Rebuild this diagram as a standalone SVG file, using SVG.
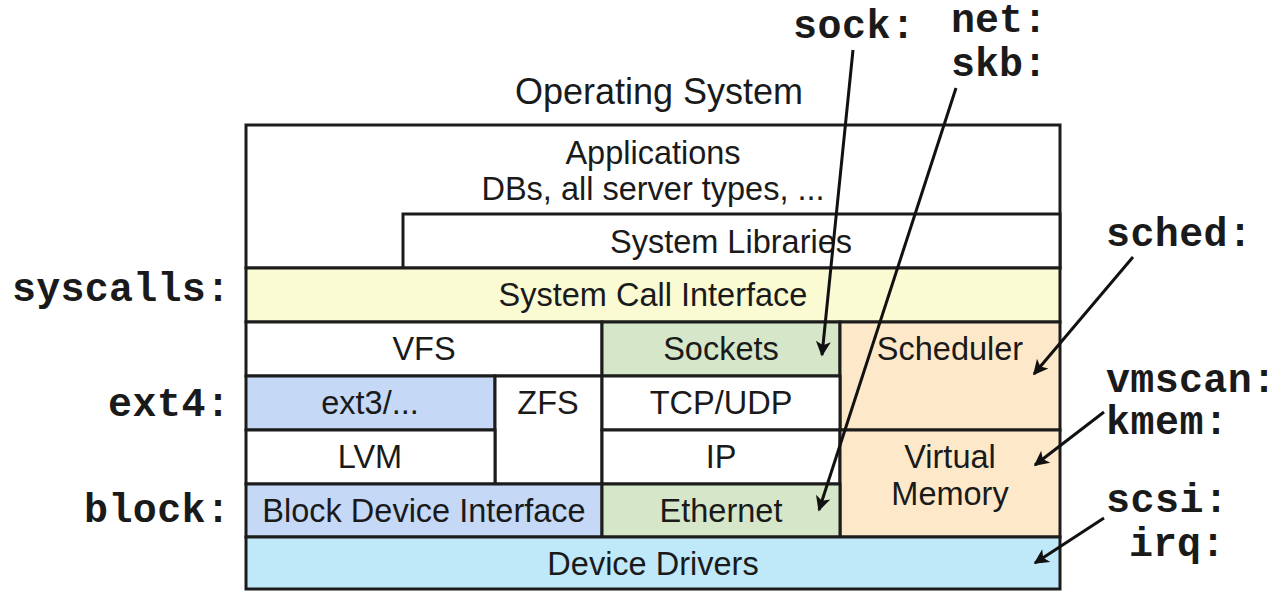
<svg xmlns="http://www.w3.org/2000/svg" width="1281" height="592" viewBox="0 0 1281 592">
<style>
.box{stroke:#1c1c1c;stroke-width:3}
.t{font-family:"Liberation Sans",Arial,sans-serif;font-size:32.5px;fill:#1a1a1a;text-anchor:middle}
.m{font-family:"Liberation Mono","Courier New",monospace;font-size:40px;font-weight:bold;fill:#1a1a1a}
.c{stroke:#111;stroke-width:3;fill:none;marker-end:url(#ah)}
.white{fill:#fff}.yel{fill:#fafad3}.grn{fill:#d6e6c8}.org{fill:#fde9c9}.blu{fill:#c5d8f5}.cyn{fill:#bfe8f8}
</style>
<defs>
<marker id="ah" viewBox="0 0 10 10" refX="9" refY="5" markerWidth="6" markerHeight="5" markerUnits="strokeWidth" orient="auto">
<path d="M0,0 L10,5 L0,10 L2.5,5 z" fill="#111"/>
</marker>
</defs>
<rect width="1281" height="592" fill="#fff"/>
<text class="t" x="659" y="104" style="font-size:36px">Operating System</text>
<g id="apps"><rect class="box white" x="246" y="125" width="814" height="143"/><text class="t" x="653" y="164">Applications</text><text class="t" x="653" y="200">DBs, all server types, ...</text></g>
<g id="libs"><rect class="box white" x="403" y="214" width="657" height="54"/><text class="t" x="731" y="253">System Libraries</text></g>
<g id="sci"><rect class="box yel" x="246" y="268" width="814" height="54"/><text class="t" x="653" y="306">System Call Interface</text></g>
<g id="vfs"><rect class="box white" x="246" y="322" width="356" height="54"/><text class="t" x="424" y="360">VFS</text></g>
<g id="sockets"><rect class="box grn" x="602" y="322" width="238" height="54"/><text class="t" x="721" y="360">Sockets</text></g>
<g id="sched"><rect class="box org" x="840" y="322" width="220" height="108"/><text class="t" x="950" y="360">Scheduler</text></g>
<g id="ext3"><rect class="box blu" x="246" y="376" width="249" height="54"/><text class="t" x="370" y="414">ext3/...</text></g>
<g id="zfs"><rect class="box white" x="495" y="376" width="107" height="108"/><text class="t" x="548" y="414">ZFS</text></g>
<g id="tcp"><rect class="box white" x="602" y="376" width="238" height="54"/><text class="t" x="721" y="414">TCP/UDP</text></g>
<g id="lvm"><rect class="box white" x="246" y="430" width="249" height="54"/><text class="t" x="370" y="468">LVM</text></g>
<g id="ip"><rect class="box white" x="602" y="430" width="238" height="54"/><text class="t" x="721" y="468">IP</text></g>
<g id="vm"><rect class="box org" x="840" y="430" width="220" height="107"/><text class="t" x="950" y="468">Virtual</text><text class="t" x="950" y="505">Memory</text></g>
<g id="block"><rect class="box blu" x="246" y="484" width="356" height="53"/><text class="t" x="424" y="522">Block Device Interface</text></g>
<g id="eth"><rect class="box grn" x="602" y="484" width="238" height="53"/><text class="t" x="721" y="522">Ethernet</text></g>
<g id="drivers"><rect class="box cyn" x="246" y="537" width="814" height="52"/><text class="t" x="653" y="575">Device Drivers</text></g>
<g id="labels">
<text class="m" x="12" y="301" textLength="218">syscalls:</text>
<text class="m" x="108" y="416" textLength="122">ext4:</text>
<text class="m" x="84" y="522" textLength="146">block:</text>
<text class="m" x="793" y="38" textLength="122">sock:</text>
<text class="m" x="951" y="32" textLength="96">net:</text>
<text class="m" x="951" y="76" textLength="96">skb:</text>
<text class="m" x="1106" y="246" textLength="146">sched:</text>
<text class="m" x="1106" y="392" textLength="170">vmscan:</text>
<text class="m" x="1106" y="434" textLength="122">kmem:</text>
<text class="m" x="1106" y="512" textLength="122">scsi:</text>
<text class="m" x="1129" y="556" textLength="96">irq:</text>
</g>
<g id="connectors">
<line class="c" x1="853" y1="50" x2="822" y2="355"/>
<line class="c" x1="956" y1="88" x2="819" y2="510"/>
<line class="c" x1="1133" y1="257" x2="1034" y2="374"/>
<line class="c" x1="1104" y1="412" x2="1035" y2="465"/>
<line class="c" x1="1104" y1="518" x2="1035" y2="563"/>
</g>
</svg>
